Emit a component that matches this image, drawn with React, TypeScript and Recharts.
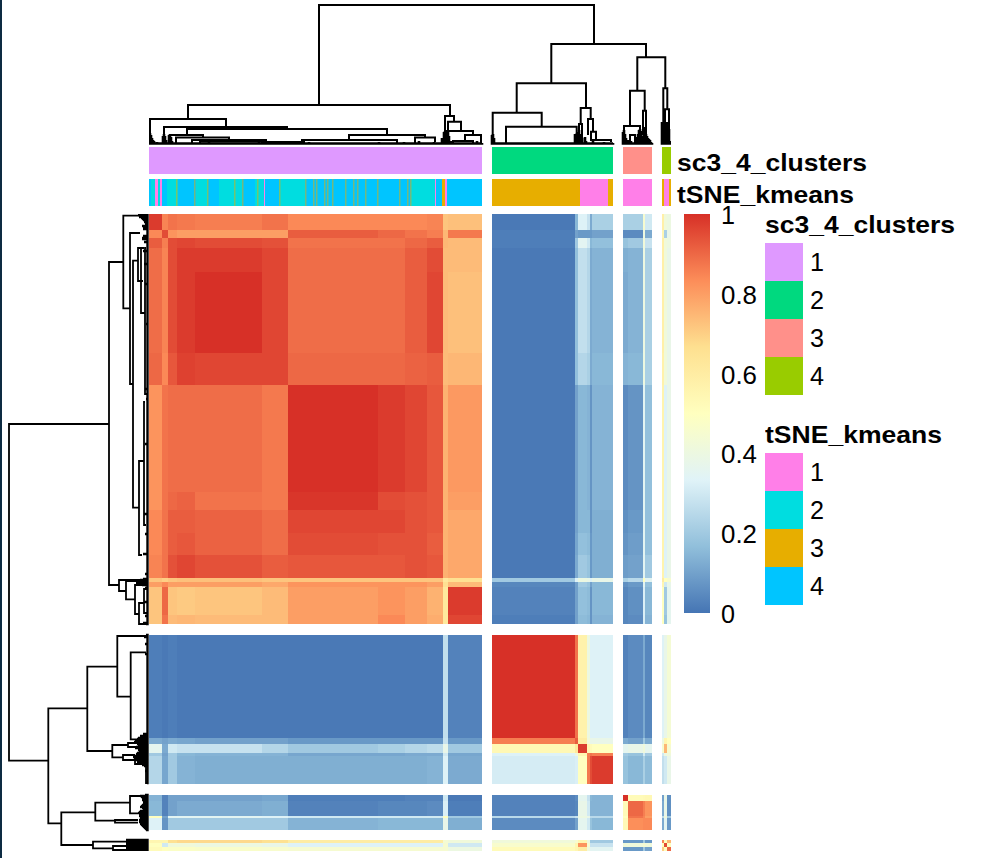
import * as React from "react";
import {
  Bar,
  Cell,
  ComposedChart,
  ReferenceArea,
  Scatter,
  XAxis,
  YAxis,
} from "recharts";

// cells per band, one list per split of the consensus matrix
const colBands = [
  [13, 6, 9, 18, 67, 26, 90, 27, 22, 16, 5, 34],
  [83, 3, 9, 3, 2, 21],
  [5, 15, 2, 7],
  [2, 3, 4],
];
const rowBands = [
  [16, 8, 10, 24, 81, 32, 107, 18, 23, 22, 23, 4, 5, 28, 9],
  [103, 6, 9, 3, 28],
  [6, 15, 2, 12],
  [3, 4, 4],
];
const colGap = 10;
const rowGap = [11, 11, 10];

const heatSplit1 = [
  [.98, .85, .88, .87, .86, .88, .84, .84, .84, .85, .72, .73, .01, .15, .33, .28, .12, .22, .22, .22, .45, .3, .58, .42, .4],
  [.84, .95, .82, .8, .8, .8, .92, .9, .88, .86, .75, .87, .02, .1, .08, .08, .08, .1, .05, .05, .4, .12, .55, .22, .38],
  [.92, .86, .95, .96, .95, .94, .88, .88, .9, .92, .75, .74, .02, .2, .35, .3, .15, .17, .18, .2, .42, .28, .58, .42, .4],
  [.89, .85, .95, .98, .98, .96, .89, .89, .92, .95, .74, .74, .01, .17, .27, .24, .12, .14, .13, .14, .4, .22, .58, .42, .38],
  [.89, .85, .95, .98, 1, .96, .89, .89, .92, .96, .74, .73, .01, .17, .27, .24, .12, .14, .12, .14, .4, .22, .58, .42, .38],
  [.9, .84, .93, .97, .96, .96, .9, .9, .91, .92, .74, .75, .01, .17, .24, .22, .12, .15, .14, .15, .4, .22, .57, .42, .38],
  [.82, .88, .89, .89, .89, .87, 1, .98, .96, .93, .76, .81, .01, .1, .15, .14, .07, .14, .05, .07, .35, .17, .56, .33, .38],
  [.82, .88, .9, .91, .88, .87, .99, .95, .94, .93, .76, .8, .01, .1, .15, .14, .07, .14, .05, .07, .35, .17, .56, .33, .38],
  [.84, .88, .92, .92, .91, .89, .96, .96, .94, .93, .76, .78, .01, .1, .15, .15, .07, .13, .06, .08, .35, .17, .56, .33, .38],
  [.84, .88, .92, .93, .91, .89, .95, .94, .94, .92, .76, .78, .01, .11, .17, .16, .08, .13, .07, .09, .35, .17, .56, .33, .38],
  [.85, .88, .94, .96, .94, .92, .93, .93, .94, .93, .76, .78, .01, .12, .2, .18, .08, .13, .09, .1, .35, .2, .56, .33, .38],
  [.72, .7, .72, .73, .73, .72, .72, .72, .72, .72, .62, .66, .2, .33, .4, .38, .33, .38, .22, .25, .5, .35, .6, .5, .45],
  [.8, .84, .8, .8, .8, .78, .82, .82, .82, .8, .66, .74, .04, .1, .2, .18, .1, .15, .06, .08, .35, .17, .55, .3, .38],
  [.72, .9, .72, .71, .72, .74, .8, .82, .8, .76, .62, .98, .03, .1, .17, .16, .07, .15, .04, .06, .32, .15, .5, .2, .36],
  [.72, .88, .74, .75, .74, .74, .8, .84, .8, .77, .62, .96, .02, .1, .16, .15, .07, .14, .04, .05, .32, .14, .5, .18, .36],
];
const heatSplit2 = [
  [.02, .01, .02, .01, .01, .01, .01, .01, .01, .01, .27, .03, 1, .88, .57, .4, .33, .33, .03, .05, .12, .04, .33, .38, .44],
  [.12, .1, .12, .11, .1, .1, .08, .08, .08, .08, .28, .08, .86, .92, .6, .42, .38, .38, .12, .1, .2, .12, .4, .55, .5],
  [.36, .12, .3, .28, .28, .24, .2, .22, .24, .26, .38, .2, .54, .62, .98, .55, .52, .5, .36, .38, .42, .36, .45, .75, .45],
  [.2, .1, .2, .15, .14, .14, .11, .11, .12, .12, .3, .11, .33, .4, .55, .86, .88, .86, .2, .18, .3, .2, .3, .4, .42],
  [.24, .11, .2, .14, .13, .13, .13, .13, .13, .14, .33, .12, .31, .32, .5, .87, .95, .98, .18, .15, .22, .16, .27, .3, .38],
];
const heatSplit3 = [
  [.14, .03, .1, .1, .1, .11, .02, .02, .03, .03, .3, .01, .03, .05, .36, .28, .15, .14, 1, .52, .53, .54, .1, .38, .06],
  [.15, .03, .1, .12, .12, .13, .03, .04, .04, .05, .32, .02, .03, .04, .38, .3, .14, .14, .52, .9, .86, .82, .12, .38, .06],
  [.5, .1, .35, .35, .35, .33, .3, .3, .3, .3, .5, .2, .25, .28, .4, .38, .25, .25, .5, .88, .85, .8, .25, .42, .2],
  [.33, .07, .2, .2, .2, .2, .14, .15, .15, .15, .38, .13, .05, .1, .36, .3, .18, .15, .53, .83, .84, .84, .12, .35, .08],
];
const heatSplit4 = [
  [.55, .55, .66, .68, .68, .66, .6, .6, .6, .6, .44, .42, .42, .45, .55, .4, .2, .2, .08, .08, .2, .08, .85, .5, .75],
  [.5, .3, .42, .42, .4, .38, .33, .33, .33, .33, .45, .3, .46, .55, .82, .45, .28, .28, .42, .42, .45, .42, .5, .95, .5],
  [.52, .5, .48, .48, .47, .46, .45, .45, .45, .45, .45, .4, .52, .55, .6, .42, .35, .35, .08, .08, .2, .1, .7, .5, .9],
];
const heatRows = [...heatSplit1, ...heatSplit2, ...heatSplit3, ...heatSplit4];

const rampStops = ["#4575B4", "#91BFDB", "#E0F3F8", "#FFFFBF", "#FEE090", "#FC8D59", "#D73027"];
const rampTicks = [0, 0.2, 0.4, 0.6, 0.8, 1];

const sc3Names = ["1", "2", "3", "4"];
const sc3Colors = ["#DF99FF", "#00D97F", "#FF908A", "#99CC00"];
const tsneNames = ["1", "2", "3", "4"];
const tsneColors = ["#FF7FE8", "#00DDE0", "#E7AE00", "#00C5FF"];

// [cells, cluster] along the column order, split by split
const sc3Runs = [[[333, 1]], [[121, 2]], [[29, 3]], [[9, 4]]];
const tsneRuns = [
  [[2, 4], [4, 2], [3, 1], [2, 2], [2, 1], [5, 4], [11, 2], [18, 4], [12, 2], [11, 4], [23, 2], [13, 4], [9, 2], [1, 1], [14, 4], [26, 2], [106, 4], [24, 2], [1, 1], [6, 4], [3, 3], [2, 1], [35, 4]],
  [[88, 3], [28, 1], [5, 3]],
  [[29, 1]],
  [[2, 3], [5, 1], [2, 3]],
];
const tsneGoldCells = [27, 45, 58, 85, 93, 108, 130, 156, 164, 167, 175, 178, 183, 196, 204, 208, 216, 228, 250, 258, 261];

// dendrogram merges: [posA, heightA, posB, heightB, mergeHeight]
const topMerges = [
  [170, 39, 445, 100, 139],
  [39, 25, 301, 28, 39],
  [1, 0, 77, 17, 25],
  [15, 0, 138, 15, 17],
  [38, 9, 238, 9, 15],
  [21, 0, 54, 6.5, 9],
  [27, 0, 80, 4, 6.5],
  [43, 1, 117, 1, 4],
  [51, 1, 113, 1, 2.5],
  [200, 4, 276, 6.5, 9],
  [153, 1, 248, 1, 4],
  [266, 1, 286, 2, 6.5],
  [113, 0, 155, 0, 2],
  [296, 0, 305, 22.3, 28],
  [299, 0, 312, 13, 22.3],
  [299, 0, 324, 9, 13],
  [316, 4, 332, 0, 9],
  [304, 0, 324, 0, 3],
  [402.3, 60.7, 497, 86.7, 100],
  [367.7, 31.3, 437, 36, 60.7],
  [343.7, 0, 392.7, 17.3, 31.3],
  [357, 1, 427.7, 1, 17.3],
  [431.7, 20, 441.7, 25, 36],
  [439, 9, 444, 12.3, 25],
  [442, 3, 447, 3, 12.3],
  [430, 0, 433, 0, 20],
  [444, 2, 462, 2, 4],
  [488.3, 53.3, 516.3, 55.7, 86.7],
  [481, 18, 495.7, 33.3, 53.3],
  [475, 0, 491, 0, 18],
  [481, 0, 486, 0, 9],
  [494, 9, 497, 0, 33.3],
  [514.3, 0, 518.3, 34.7, 55.7],
  [516, 0, 520, 0, 34.7],
];
const leftMerges = [
  [210, 39, 546.7, 99.7, 139],
  [48, 24.7, 371, 29, 39],
  [1.7, 4, 94.3, 18, 24.7],
  [19, 8, 170, 15, 18],
  [46.7, 10, 293.7, 9, 15],
  [247, 4, 341, 6, 9],
  [34, 6, 67, 5, 10],
  [34, 4, 99, 3, 7],
  [188, 3, 311, 2, 4],
  [34, 2, 180, 1, 3],
  [366, 1, 377, 22, 29],
  [367, 1, 385.3, 13, 22],
  [371, 2, 400, 9, 13],
  [389, 4, 410, 1, 9],
  [375, 1, 399, 1, 4],
  [494.3, 60.7, 609.3, 86.7, 99.7],
  [452.7, 30.7, 537, 35.7, 60.7],
  [422, 1, 482.7, 17.3, 30.7],
  [438.3, 2, 525.3, 2, 17.3],
  [531, 20, 543.3, 25, 35.7],
  [529, 2, 533, 2, 20],
  [541, 13, 546, 3, 25],
  [542.7, 3, 550, 3, 13],
  [548, 1, 569, 1, 2],
  [598.3, 52.7, 631, 55, 86.7],
  [588.7, 18, 606.7, 33, 52.7],
  [582, 1, 599.3, 10, 18],
  [606, 10, 608.7, 10, 33],
  [627.7, 1, 634.3, 35, 55],
  [632, 1, 636, 1, 35],
];

// tightly packed leaves: [pos, height], one list per split
const topLeaves = [
  [[0, 1], [1, 11], [2, 9], [3, 6], [4, 4], [5, 3], [8, 2], [14, 8], [15, 10], [16, 8], [17, 4], [20, 9], [21, 10], [22, 7], [23, 3], [60, 2], [110, 2], [160, 2], [230, 2], [255, 2], [270, 3], [285, 2], [293, 6], [295, 12], [296, 13], [297, 14], [298, 12], [299, 13], [300, 8], [302, 3], [328, 3], [333, 1]],
  [[343, 9], [344, 10], [345, 6], [346, 1], [380, 1], [426, 10], [427, 9], [428, 11], [429, 12], [430, 14], [431, 10], [432, 10], [433, 6], [436, 7], [437, 3], [444, 4], [455, 2], [464, 1]],
  [[474, 12], [475, 14], [476, 10], [477, 6], [478, 4], [479, 4], [480, 2], [482, 3], [487, 4], [488, 7], [489, 10], [490, 14], [491, 15], [492, 13], [493, 6], [494, 8], [495, 13], [496, 17], [497, 10], [498, 8], [499, 6], [500, 5], [501, 4], [502, 2], [503, 1]],
  [[513, 22], [514, 22], [515, 22], [516, 22], [517, 22], [518, 22], [519, 21], [520, 15], [521, 3]],
];
const leftLeaves = [
  [[0, 2], [1, 10], [2, 8], [3, 9], [4, 7], [5, 6], [6, 5], [8, 4], [10, 3], [12, 6], [14, 5], [15, 5], [22, 5], [24, 6], [25, 6], [28, 4], [37, 5], [50, 4], [70, 3], [110, 2], [175, 3], [185, 2], [230, 3], [300, 4], [320, 3], [340, 5], [360, 3], [365, 5], [366, 8], [367, 10], [368, 11], [369, 12], [370, 9], [371, 6], [374, 3], [388, 4], [402, 3], [409, 5], [410, 2]],
  [[421, 2], [423, 4], [430, 3], [440, 3], [520, 5], [522, 8], [524, 10], [525, 11], [527, 13], [528, 14], [530, 11], [531, 10], [533, 12], [534, 13], [536, 10], [537, 9], [539, 11], [540, 12], [542, 14], [543, 15], [545, 14], [546, 13], [548, 11], [549, 10], [551, 6], [552, 4], [557, 3], [569, 1]],
  [[581, 3], [582, 8], [583, 7], [584, 6], [585, 6], [586, 6], [587, 5], [588, 5], [589, 5], [590, 4], [591, 6], [592, 7], [593, 8], [594, 6], [595, 5], [596, 5], [597, 8], [598, 9], [599, 10], [600, 9], [601, 9], [602, 9], [603, 8], [604, 8], [605, 8], [606, 9], [607, 9], [608, 9], [609, 8], [610, 8], [611, 7], [612, 6], [613, 5], [614, 4], [615, 3], [616, 2]],
  [[626, 22], [627, 22], [628, 22], [629, 22], [630, 22], [631, 22], [632, 22], [633, 22], [634, 22], [635, 22], [636, 22], [637, 20]],
];

const FONT = "'Liberation Sans', Arial, sans-serif";
const matrixWidth = 522;
const matrixHeight = 637;

function hexToRgb(hex: string) {
  return [1, 3, 5].map((i) => parseInt(hex.slice(i, i + 2), 16));
}

function heatColor(value: number) {
  const at = value * (rampStops.length - 1);
  const i = Math.min(Math.floor(at), rampStops.length - 2);
  const a = hexToRgb(rampStops[i]);
  const b = hexToRgb(rampStops[i + 1]);
  const rgb = a.map((c, k) => Math.round(c + (b[k] - c) * (at - i)));
  return `rgb(${rgb.join(",")})`;
}

// turn cell counts per split into [start, end] spans on the matrix axis
function spans(bands: number[][], gaps: (i: number) => number) {
  const out: number[][] = [];
  let pos = 0;
  bands.forEach((group, g) => {
    group.forEach((n) => {
      out.push([pos, pos + n]);
      pos += n;
    });
    pos += gaps(g);
  });
  return out;
}

const colSpans = spans(colBands, () => colGap);
const rowSpans = spans(rowBands, (g) => rowGap[g] ?? 0);

const panel = (left: number, top: number): React.CSSProperties => ({
  position: "absolute",
  left,
  top,
});

const noMargin = { top: 0, right: 0, bottom: 0, left: 0 };
const noPoint = () => <g />;

function StretchText({ x, y, size = 23, bold, width, children }: any) {
  return (
    <text
      x={x}
      y={y}
      fontFamily={FONT}
      fontSize={size}
      fontWeight={bold ? 700 : 400}
      fill="#000"
      textLength={width}
      lengthAdjust="spacingAndGlyphs"
    >
      {children}
    </text>
  );
}

function HeatPanel() {
  return (
    <div style={{ ...panel(149, 214), filter: "blur(0.7px)" }}>
      <ComposedChart width={matrixWidth} height={matrixHeight} margin={noMargin}>
        <XAxis type="number" dataKey="x" domain={[0, matrixWidth]} hide />
        <YAxis type="number" dataKey="y" domain={[0, matrixHeight]} reversed hide />
        <Scatter data={[{ x: 0, y: 0 }, { x: matrixWidth, y: matrixHeight }]} shape={noPoint} isAnimationActive={false} />
        {heatRows.map((row, r) =>
          row.map((value, c) => (
            <ReferenceArea
              key={`${r}-${c}`}
              x1={colSpans[c][0]}
              x2={colSpans[c][1]}
              y1={rowSpans[r][0]}
              y2={rowSpans[r][1]}
              fill={heatColor(value)}
              fillOpacity={1}
              stroke="none"
              shapeRendering="crispEdges"
            />
          ))
        )}
      </ComposedChart>
    </div>
  );
}

const mergePath = ([a, ha, b, hb, h]: number[]) => [
  { p: a, h: ha },
  { p: a, h },
  { p: b, h },
  { p: b, h: hb },
];

const leafPath = (leaves: number[][]) => {
  const pts: { p: number; h: number }[] = [];
  leaves.forEach(([p, h]) => {
    pts.push({ p, h: 0.5 }, { p, h }, { p, h: 0.5 });
  });
  return pts;
};

function dendroSeries(merges: number[][], leaves: number[][][], width: number) {
  const line = { stroke: "#000", strokeWidth: width };
  return [
    ...merges.map((m, i) => (
      <Scatter key={`m${i}`} data={mergePath(m)} line={line} shape={noPoint} isAnimationActive={false} />
    )),
    ...leaves.map((l, i) => (
      <Scatter key={`l${i}`} data={leafPath(l)} line={{ ...line, strokeWidth: width + 0.6 }} shape={noPoint} isAnimationActive={false} />
    )),
  ];
}

function TopDendrogram() {
  return (
    <div style={panel(149, 4)}>
      <ComposedChart width={matrixWidth} height={142} margin={noMargin}>
        <XAxis type="number" dataKey="p" domain={[0, matrixWidth]} hide />
        <YAxis type="number" dataKey="h" domain={[-2, 140]} hide />
        {dendroSeries(topMerges, topLeaves, 2)}
      </ComposedChart>
    </div>
  );
}

function LeftDendrogram() {
  return (
    <div style={panel(8, 214)}>
      <ComposedChart width={142} height={matrixHeight} margin={noMargin}>
        <XAxis type="number" dataKey="h" domain={[-2, 140]} reversed hide />
        <YAxis type="number" dataKey="p" domain={[0, matrixHeight]} reversed hide />
        {dendroSeries(leftMerges, leftLeaves, 1.8)}
      </ComposedChart>
    </div>
  );
}

function runAreas(runs: number[][][], colors: string[], y1: number, y2: number) {
  const areas: React.ReactNode[] = [];
  let pos = 0;
  runs.forEach((group, g) => {
    group.forEach(([n, cluster], i) => {
      areas.push(
        <ReferenceArea
          key={`${y1}-${g}-${i}`}
          x1={pos}
          x2={pos + n}
          y1={y1}
          y2={y2}
          fill={colors[cluster - 1]}
          fillOpacity={1}
          stroke="none"
          shapeRendering="crispEdges"
        />
      );
      pos += n;
    });
    pos += colGap;
  });
  return areas;
}

const trackNames = ["sc3_4_clusters", "tSNE_kmeans"];
const trackWidths = [190, 177];

function TrackTick({ x, y, index }: any) {
  return (
    <StretchText x={x - 2} y={y + 10} size={24} bold width={trackWidths[index]}>
      {trackNames[index]}
    </StretchText>
  );
}

function AnnotationTracks() {
  return (
    <div style={panel(149, 147)}>
      <ComposedChart width={853} height={59} margin={noMargin}>
        <XAxis type="number" dataKey="x" domain={[0, matrixWidth]} hide />
        <YAxis
          type="number"
          dataKey="y"
          orientation="right"
          width={331}
          domain={[0, 59]}
          reversed
          ticks={[14, 46]}
          interval={0}
          axisLine={false}
          tickLine={false}
          tick={TrackTick}
        />
        <Scatter data={[{ x: 0, y: 0 }, { x: matrixWidth, y: 59 }]} shape={noPoint} isAnimationActive={false} />
        {runAreas(sc3Runs, sc3Colors, 0, 27)}
        {runAreas(tsneRuns, tsneColors, 32, 59)}
        {tsneGoldCells.map((c) => (
          <ReferenceArea
            key={c}
            x1={c}
            x2={c + 1.5}
            y1={32}
            y2={59}
            fill={tsneColors[2]}
            fillOpacity={0.5}
            stroke="none"
          />
        ))}
      </ComposedChart>
    </div>
  );
}

function RampTick({ x, y, payload }: any) {
  const text = String(payload.value);
  return (
    <StretchText x={x + 3} y={y + 10} size={25} width={text.length > 1 ? 36 : 14}>
      {text}
    </StretchText>
  );
}

function ColorBar() {
  return (
    <div style={panel(684, 200)}>
      <ComposedChart
        width={84}
        height={427}
        data={[{ name: "ramp", value: 1 }]}
        margin={{ top: 14, right: 0, bottom: 14, left: 0 }}
        barCategoryGap={0}
      >
        <defs>
          <linearGradient id="heatRamp" x1="0" y1="1" x2="0" y2="0">
            {rampStops.map((c, i) => (
              <stop key={c} offset={i / (rampStops.length - 1)} stopColor={c} />
            ))}
          </linearGradient>
        </defs>
        <XAxis dataKey="name" hide />
        <YAxis
          orientation="right"
          width={58}
          domain={[0, 1]}
          ticks={rampTicks}
          interval={0}
          axisLine={false}
          tickLine={false}
          tick={RampTick}
        />
        <Bar dataKey="value" fill="url(#heatRamp)" isAnimationActive={false} />
      </ComposedChart>
    </div>
  );
}

function LegendTick({ x, y, payload }: any) {
  return (
    <StretchText x={x - 1} y={y + 9} size={25} width={14}>
      {payload.value}
    </StretchText>
  );
}

function CategoryLegend({ title, titleWidth, names, colors, top }: any) {
  const data = names.map((name: string) => ({ name, value: 1 }));
  return (
    <div style={panel(765, top)}>
      <ComposedChart
        layout="vertical"
        width={237}
        height={182}
        data={data}
        margin={{ top: 30, right: 0, bottom: 0, left: 0 }}
        barCategoryGap={0}
      >
        <XAxis type="number" domain={[0, 1]} hide />
        <YAxis
          type="category"
          dataKey="name"
          orientation="right"
          width={199}
          axisLine={false}
          tickLine={false}
          tick={LegendTick}
        />
        <Bar dataKey="value" isAnimationActive={false}>
          {data.map((d: any, i: number) => (
            <Cell key={d.name} fill={colors[i]} />
          ))}
        </Bar>
        <StretchText x={0} y={20} size={24} bold width={titleWidth}>
          {title}
        </StretchText>
      </ComposedChart>
    </div>
  );
}

export default function App() {
  return (
    <div style={{ position: "absolute", left: 0, top: 0, width: 1002, height: 858, background: "#fff", overflow: "hidden" }}>
      <div style={{ position: "absolute", left: 0, top: 0, width: 2, height: 858, background: "#0D2B42" }} />
      <TopDendrogram />
      <LeftDendrogram />
      <AnnotationTracks />
      <HeatPanel />
      <ColorBar />
      <CategoryLegend title="sc3_4_clusters" titleWidth={190} names={sc3Names} colors={sc3Colors} top={213} />
      <CategoryLegend title="tSNE_kmeans" titleWidth={177} names={tsneNames} colors={tsneColors} top={423} />
    </div>
  );
}
